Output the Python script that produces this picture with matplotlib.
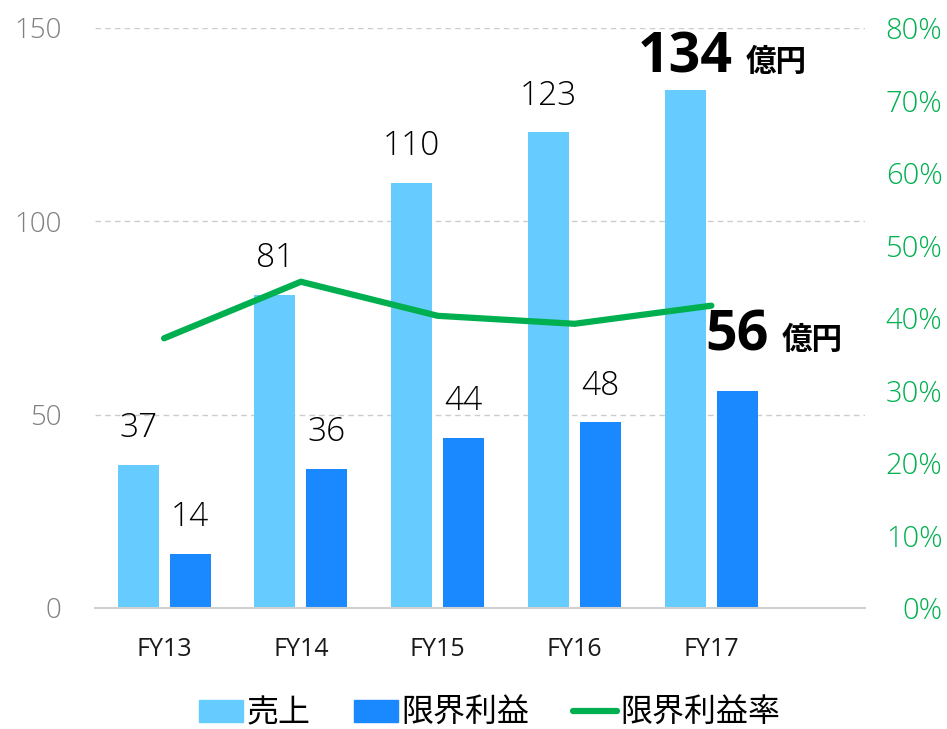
import matplotlib
matplotlib.use('Agg')
import matplotlib.pyplot as plt
import matplotlib.ticker as mticker
from matplotlib.patches import Patch
from matplotlib.lines import Line2D
import numpy as np

plt.rcParams['font.family'] = ['Open Sans', 'Noto Sans CJK JP', 'DejaVu Sans']

years = ['FY13', 'FY14', 'FY15', 'FY16', 'FY17']
sales = [37, 81, 110, 123, 134]
margin = [14, 36, 44, 48, 56]
margin_rate = [37.2, 45.0, 40.3, 39.2, 41.7]

c_sales = '#66ccff'
c_margin = '#1a88ff'
c_rate = '#00b050'
jp = ['Noto Sans CJK JP', 'DejaVu Sans']

fig = plt.figure(figsize=(9.47, 7.29), dpi=100)
ax = fig.add_axes([0.1003, 0.166, 0.8127, 0.7956])

x = np.arange(len(years))
w = 0.30
off = 0.19
ax.bar(x - off, sales, w, color=c_sales, zorder=2)
ax.bar(x + off, margin, w, color=c_margin, zorder=2)

ax.set_xlim(-0.505, 5.12)
ax.set_ylim(0, 150)
ax.set_yticks([0, 50, 100, 150])
ax.set_xticks(x)
ax.set_xticklabels(years)
ax.tick_params(axis='x', length=0, pad=21, labelsize=18, labelcolor='#1a1a1a')
ax.tick_params(axis='y', length=0, pad=24, labelsize=20, labelcolor='#808080')
for lab in ax.get_yticklabels():
    lab.set_fontweight('light')
ax.grid(axis='y', linestyle=(0, (4, 3)), color='#cccccc', linewidth=1)
ax.set_axisbelow(True)
for s in ['top', 'left', 'right']:
    ax.spines[s].set_visible(False)
ax.spines['bottom'].set_color('#d0d0d0')
ax.spines['bottom'].set_linewidth(1.5)

# value labels
for i in range(len(years) - 1):
    ax.annotate(str(sales[i]), (x[i] - off, sales[i]), xytext=(0, 14),
                textcoords='offset points', ha='center', va='bottom',
                fontsize=24, fontweight='light')
    ax.annotate(str(margin[i]), (x[i] + off, margin[i]), xytext=(0, 14),
                textcoords='offset points', ha='center', va='bottom',
                fontsize=24, fontweight='light')

last = len(years) - 1
t1 = ax.annotate(str(sales[last]), (x[last] - off, sales[last]), xytext=(0, 3),
                 textcoords='offset points', ha='center', va='bottom',
                 fontsize=40, fontweight='bold')
ax.annotate('億円', xy=(1, 0.14), xycoords=t1, xytext=(9, 0), textcoords='offset points',
            ha='left', va='bottom', fontsize=22, fontweight='bold', family=jp)
t2 = ax.annotate(str(margin[last]), (x[last] + off, margin[last]), xytext=(0, 20),
                 textcoords='offset points', ha='center', va='bottom',
                 fontsize=40, fontweight='bold')
ax.annotate('億円', xy=(1, 0.14), xycoords=t2, xytext=(9, 0), textcoords='offset points',
            ha='left', va='bottom', fontsize=22, fontweight='bold', family=jp)

ax2 = ax.twinx()
ax2.plot(x, [r / 100 for r in margin_rate], color=c_rate, linewidth=4.5,
         solid_capstyle='round', zorder=3)
ax2.set_ylim(0, 0.8)
ax2.set_yticks(np.arange(0, 0.81, 0.1))
ax2.yaxis.set_major_formatter(mticker.PercentFormatter(1.0, decimals=0))
ax2.tick_params(axis='y', length=0, pad=56, labelsize=21, labelcolor=c_rate)
for lab in ax2.get_yticklabels():
    lab.set_horizontalalignment('right')
    lab.set_fontweight('light')
for s in ['top', 'left', 'right', 'bottom']:
    ax2.spines[s].set_visible(False)

handles = [Patch(color=c_sales), Patch(color=c_margin),
           Line2D([], [], color=c_rate, linewidth=4.5, solid_capstyle='round')]
fig.legend(handles, ['売上', '限界利益', '限界利益率'], loc='center',
           bbox_to_anchor=(0.517, 0.022), ncol=3, frameon=False,
           prop={'family': jp, 'size': 23},
           handlelength=1.4, handleheight=0.7, handletextpad=0.1, columnspacing=1.35)

fig.savefig('out.png', dpi=100)
